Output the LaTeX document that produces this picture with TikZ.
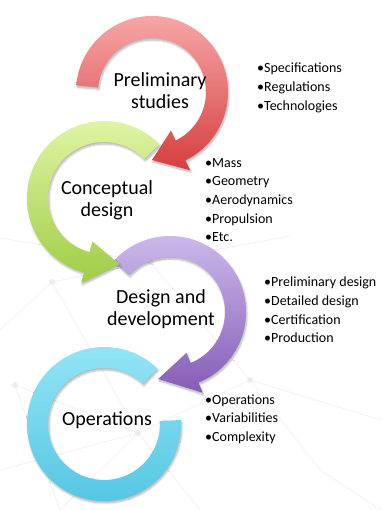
\documentclass[tikz,border=0pt]{standalone}
\usepackage{fontspec}
\setmainfont{Carlito}
\usetikzlibrary{shadows.blur}

\definecolor{redtop}{RGB}{248,168,168}
\definecolor{redbot}{RGB}{214,62,62}
\definecolor{greentop}{RGB}{226,246,168}
\definecolor{greenbot}{RGB}{160,205,70}
\definecolor{purpletop}{RGB}{208,190,238}
\definecolor{purplebot}{RGB}{132,92,182}
\definecolor{cyantop}{RGB}{150,230,245}
\definecolor{cyanbot}{RGB}{82,198,226}
\definecolor{netgray}{RGB}{236,236,236}

\begin{document}
\begin{tikzpicture}[x=1pt,y=1pt,
  ring/.style={blur shadow={shadow xshift=1pt,shadow yshift=-2pt,shadow blur steps=6,shadow opacity=30}},
  net/.style={draw=netgray,line width=0.6pt},
  stage/.style={font=\fontsize{20}{22}\selectfont,align=center,inner sep=0pt},
  items/.style={font=\fontsize{14}{18.7}\selectfont,align=left,anchor=west,inner sep=0pt}]

  \useasboundingbox (0,0) rectangle (381,-510);

  % faint network in the background
  \foreach \a/\b in {{(0,-238)}/{(150,-262)}, {(150,-262)}/{(290,-236)}, {(52,-282)}/{(150,-262)},
                     {(52,-282)}/{(0,-330)}, {(52,-282)}/{(138,-433)}, {(15,-385)}/{(138,-433)},
                     {(15,-385)}/{(60,-510)}, {(138,-433)}/{(250,-380)}, {(138,-433)}/{(200,-510)},
                     {(250,-380)}/{(320,-470)}, {(138,-433)}/{(60,-510)}, {(150,-262)}/{(250,-380)},
                     {(0,-470)}/{(138,-433)}, {(250,-380)}/{(381,-420)}, {(320,-470)}/{(381,-510)}}
    \path[net] \a -- \b;
  \foreach \p in {(52,-282),(15,-385),(138,-433),(250,-380),(150,-262)}
    \fill[netgray] \p circle (3);

  % operations
  \shade[ring,top color=cyantop,bottom color=cyanbot,shift={(104,-424)}]
    (46:77) arc[start angle=46,end angle=363,radius=77]
    -- (363:56) arc[start angle=363,end angle=46,radius=56] -- cycle;

  % design and development
  \shade[ring,top color=purpletop,bottom color=purplebot,shift={(170,-312)}]
    (138:76) arc[start angle=138,end angle=-68,radius=76] -- (-68:87) -- (-100:68)
    -- (-68:44) -- (-68:55) arc[start angle=-68,end angle=138,radius=55] -- cycle;

  % conceptual design
  \shade[ring,top color=greentop,bottom color=greenbot,shift={(104,-198)}]
    (44:77) arc[start angle=44,end angle=255,radius=77] -- (255:88) -- (283:68)
    -- (255:45) -- (255:56) arc[start angle=255,end angle=44,radius=56] -- cycle;

  % preliminary studies
  \shade[ring,top color=redtop,bottom color=redbot,shift={(152,-92)}]
    (175:76) arc[start angle=175,end angle=-64,radius=76] -- (-64:87) -- (-90:68)
    -- (-64:43) -- (-64:54) arc[start angle=-64,end angle=175,radius=54] -- cycle;

  \node[stage] (prelim) at (160,-91) {Preliminary\\studies};
  \node[stage] (concept) at (107,-200) {Conceptual\\design};
  \node[stage] (design) at (161,-309) {Design and\\development};
  \node[stage] (ops) at (107,-420) {Operations};

  \node[items] (prelimlist) at (257,-88) {•Specifications\\•Regulations\\•Technologies};
  \node[items] (conceptlist) at (205,-200) {•Mass\\•Geometry\\•Aerodynamics\\•Propulsion\\•Etc.};
  \node[items] (designlist) at (264,-310) {•Preliminary design\\•Detailed design\\•Certification\\•Production};
  \node[items] (opslist) at (205,-419) {•Operations\\•Variabilities\\•Complexity};
\end{tikzpicture}
\end{document}
